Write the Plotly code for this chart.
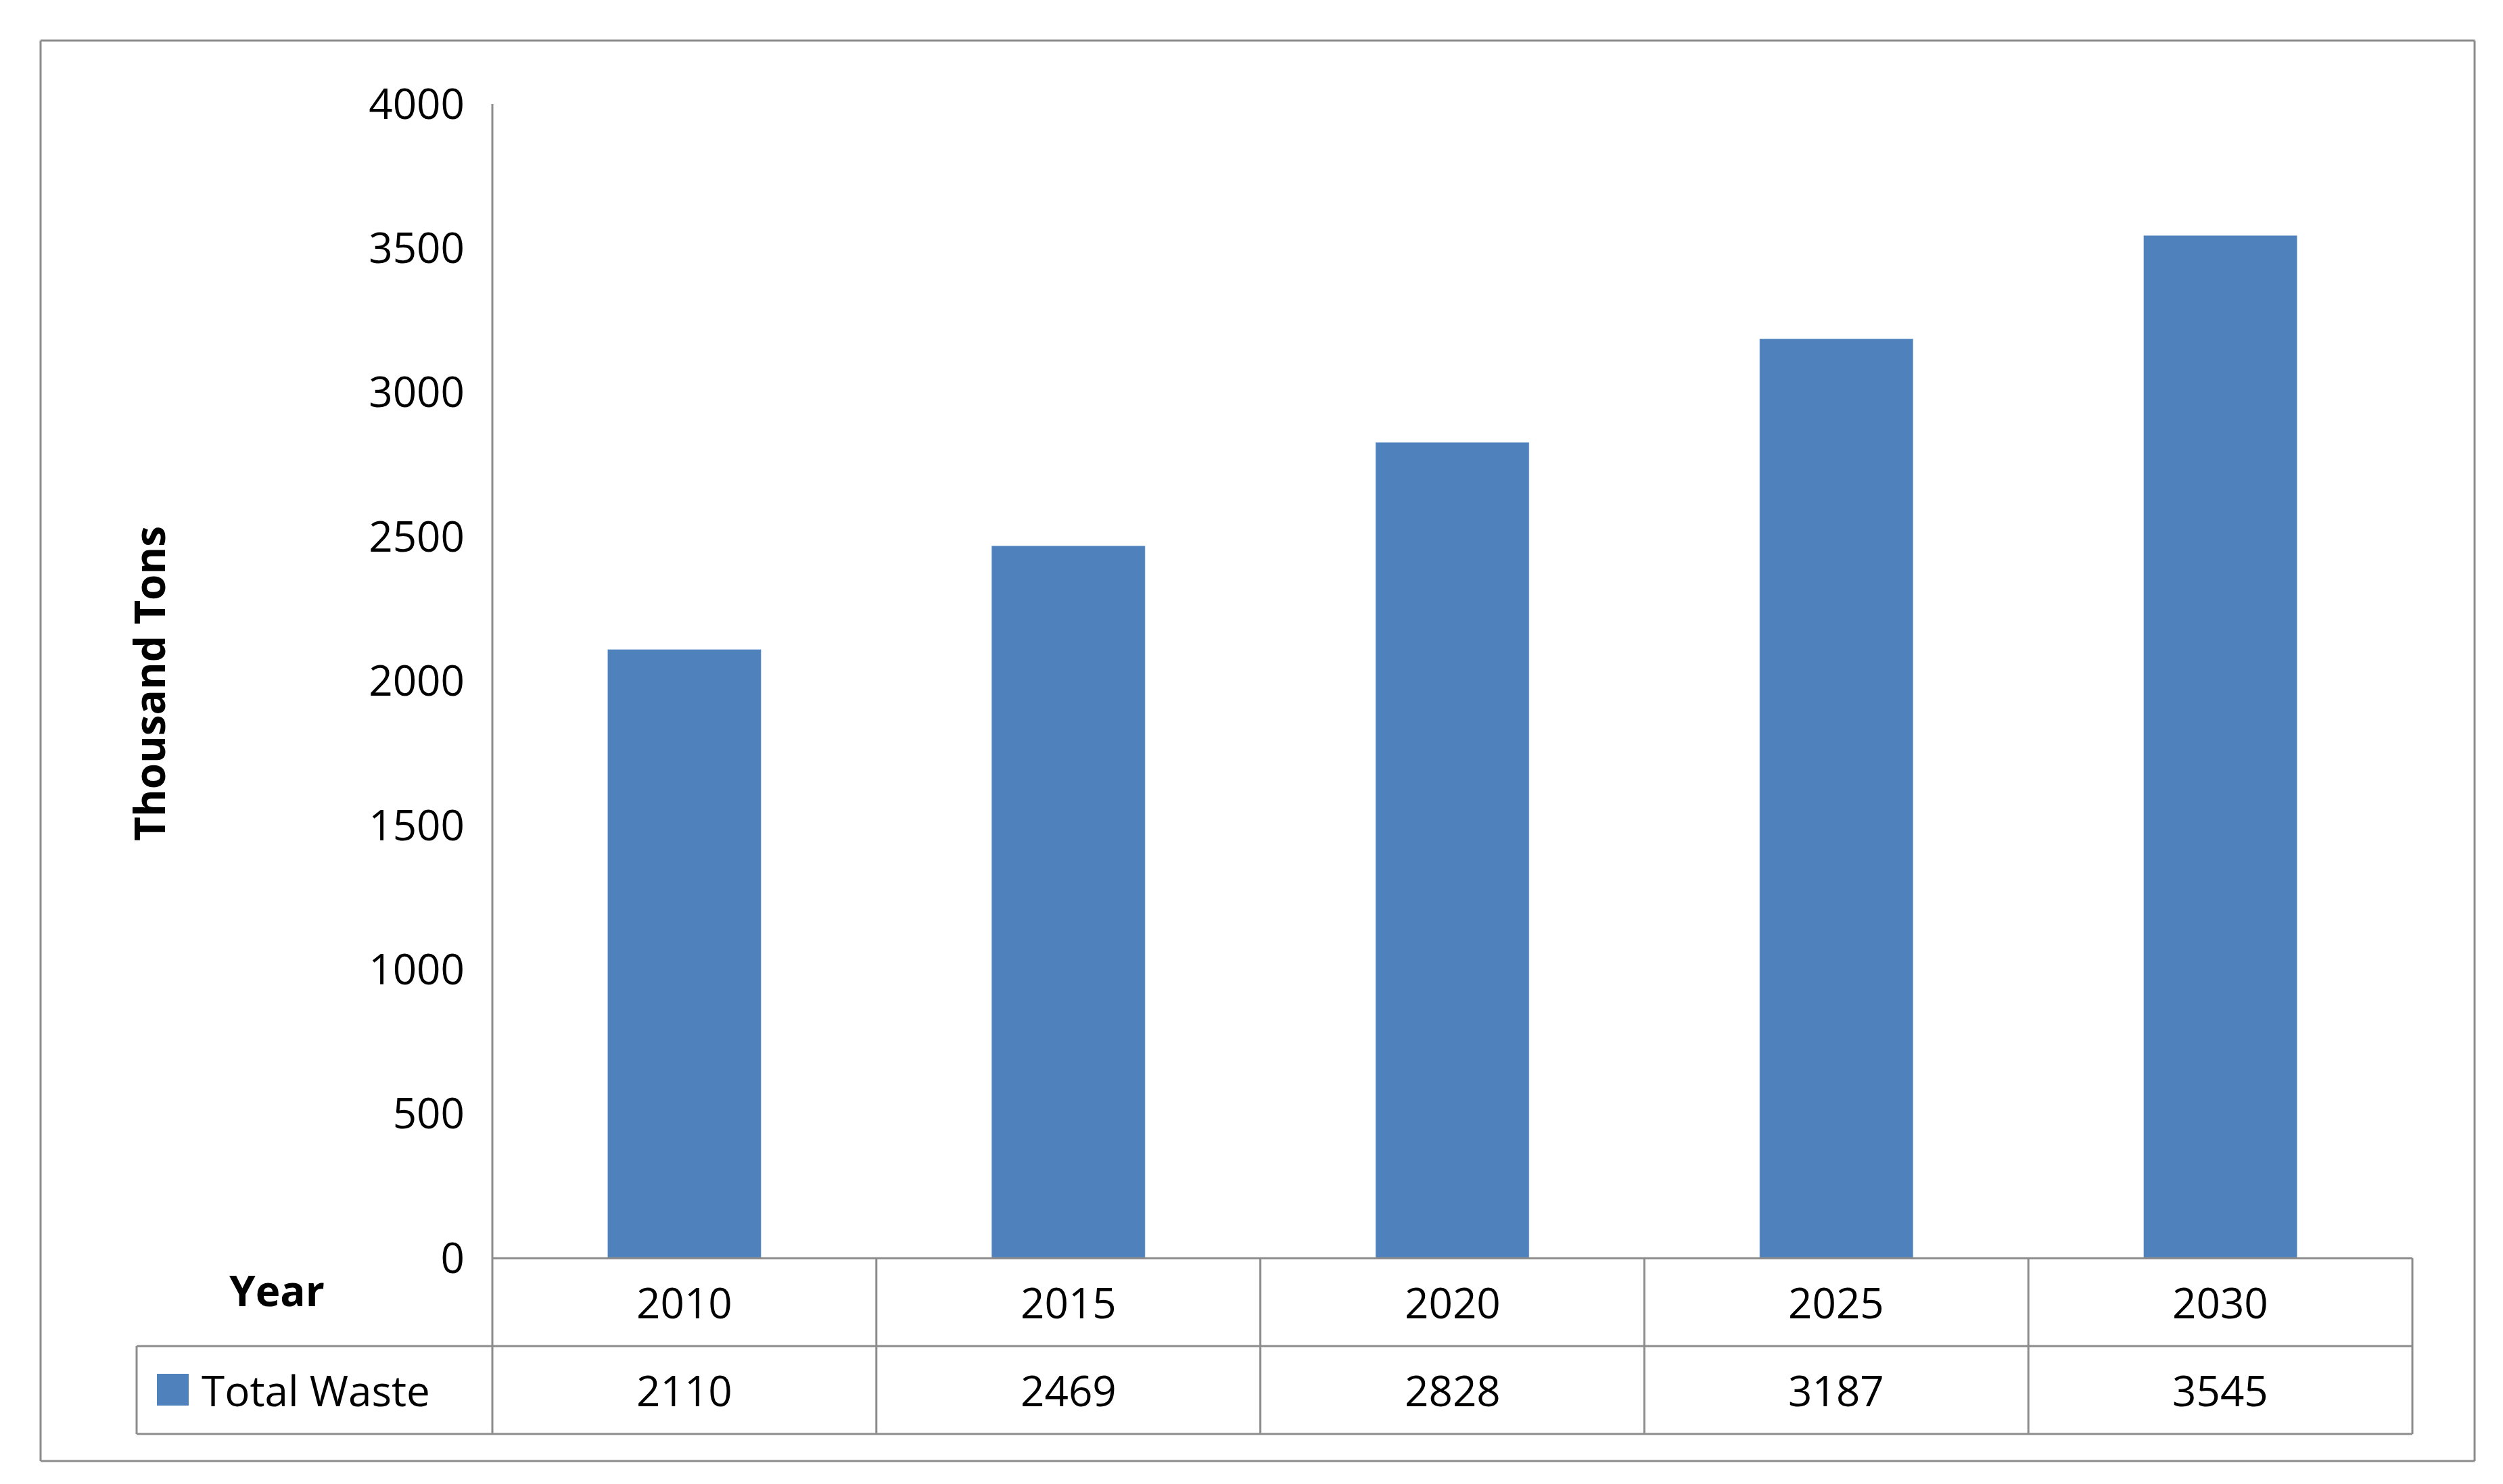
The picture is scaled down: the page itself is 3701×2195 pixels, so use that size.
import plotly.graph_objects as go

years = ["2010", "2015", "2020", "2025", "2030"]
total_waste = [2110, 2469, 2828, 3187, 3545]
series_name = "Total Waste"
y_ticks = [0, 500, 1000, 1500, 2000, 2500, 3000, 3500, 4000]

W, H = 3701, 2195
L, R, T, B = 720, 3559, 146, 1853
FONT = "Open Sans"
GREY = "#8c8c8c"
BLUE = "#4f81bd"

def px(x): return (x - L) / (R - L)
def py(y): return (B - y) / (B - T)

fig = go.Figure(go.Bar(x=years, y=total_waste, marker_color=BLUE, width=0.4, name=series_name))

shapes = []
def line(x0, y0, x1, y1, w=3):
    shapes.append(dict(type="line", xref="paper", yref="paper", x0=px(x0), y0=py(y0),
                       x1=px(x1), y1=py(y1), line=dict(color=GREY, width=w)))

# outer border
line(52, 52, 3651, 52); line(52, 2153, 3651, 2153); line(52, 52, 52, 2153); line(3651, 52, 3651, 2153)
# y axis
line(L, T, L, B)
# table
r1, r2, r3 = B, 1983, 2113
line(L, r1, R, r1); line(194, r2, R, r2); line(194, r3, R, r3)
cw = (R - L) / len(years)
for i in range(len(years) + 1):
    line(L + i * cw, r1, L + i * cw, r3)
line(194, r2, 194, r3)
# legend key
shapes.append(dict(type="rect", xref="paper", yref="paper", x0=px(224), x1=px(271),
                   y0=py(2024), y1=py(2071), fillcolor=BLUE, line=dict(width=0)))

ann = []
def text(x, y, s, bold=False, xanchor="center", angle=0):
    ann.append(dict(xref="paper", yref="paper", x=px(x), y=py(y), text=f"<b>{s}</b>" if bold else s,
                    showarrow=False, xanchor=xanchor, yanchor="middle", textangle=angle,
                    font=dict(family=FONT, size=62, color="black")))
for i, (yr, v) in enumerate(zip(years, total_waste)):
    cx = L + (i + 0.5) * cw
    text(cx, (r1 + r2) / 2, yr)
    text(cx, (r2 + r3) / 2, str(v))
text(288, (r2 + r3) / 2, series_name, xanchor="left")
text(401, 1900, "Year", bold=True)
text(212, 1003, "Thousand Tons", bold=True, angle=-90)

fig.update_layout(
    width=W, height=H, margin=dict(l=L, r=W - R, t=T, b=H - B),
    paper_bgcolor="white", plot_bgcolor="white", showlegend=False,
    shapes=shapes, annotations=ann,
    xaxis=dict(range=[-0.5, 4.5], showticklabels=False, showline=False, showgrid=False, ticks=""),
    yaxis=dict(range=[0, 4000], tickvals=y_ticks, showgrid=False, showline=False, ticks="",
               tickfont=dict(family=FONT, size=62, color="black"), ticklabelstandoff=40),
)
fig.write_html("out.html")
